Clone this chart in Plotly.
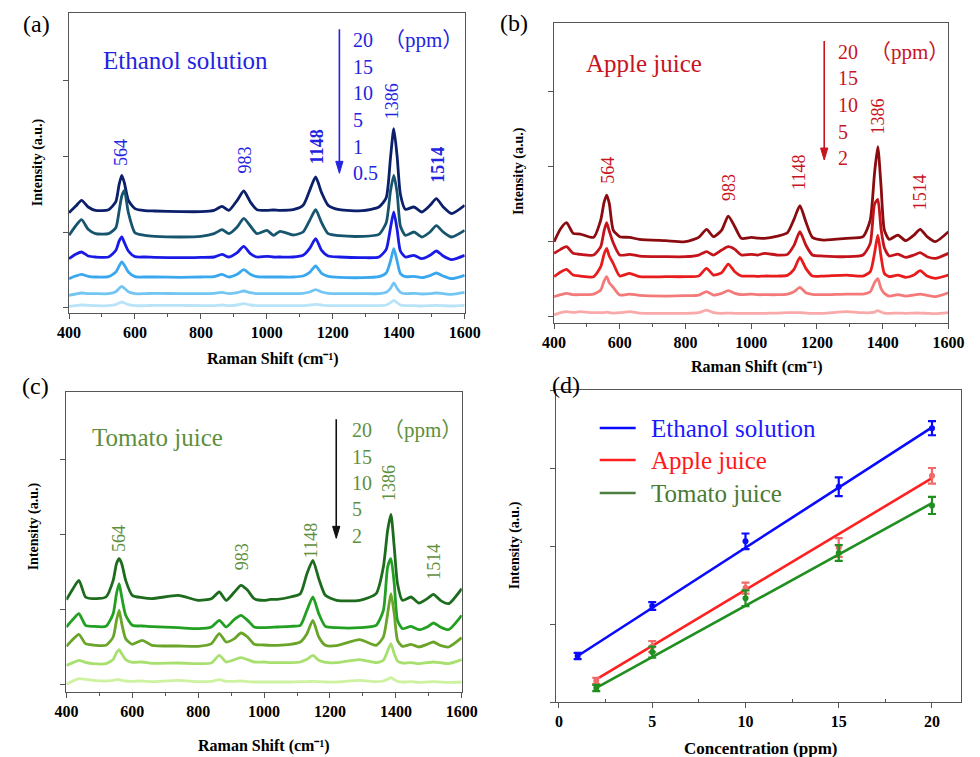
import plotly.graph_objects as go

# ---------------- data ----------------
shift = [400, 420, 438, 458, 480, 520, 542, 552, 560, 568, 580, 600,
         630, 660, 740, 800, 840, 864, 885, 910, 930, 950, 970, 1000,
         1020, 1040, 1080, 1110, 1130, 1148, 1166, 1186, 1220, 1290, 1340, 1362,
         1375, 1385, 1395, 1405, 1420, 1446, 1470, 1495, 1514, 1535, 1560, 1600]

# (a) Ethanol solution, 20 / 15 / 10 / 5 / 1 / 0.5 ppm
eth_20 = [285, 304, 322, 302, 292, 294, 318, 370, 397, 374, 322, 297,
          291, 290, 288, 288, 292, 304, 292, 322, 350, 317, 294, 292,
          293, 292, 294, 307, 352, 392, 345, 307, 294, 291, 302, 330,
          450, 537, 455, 340, 295, 302, 287, 307, 327, 302, 282, 307]
eth_15 = [217, 245, 264, 235, 222, 222, 240, 290, 335, 352, 285, 225,
          217, 214, 212, 214, 222, 234, 222, 242, 268, 245, 222, 232,
          217, 229, 218, 227, 262, 294, 255, 222, 216, 214, 220, 255,
          350, 397, 345, 245, 217, 227, 212, 227, 246, 227, 212, 232]
eth_10 = [147, 160, 167, 155, 152, 152, 172, 200, 212, 195, 170, 153,
          152, 151, 150, 151, 152, 160, 152, 165, 184, 162, 152, 154,
          152, 152, 152, 157, 178, 207, 172, 155, 152, 150, 152, 175,
          240, 287, 235, 170, 152, 157, 147, 157, 170, 155, 144, 157]
eth_5 = [87, 95, 100, 94, 92, 93, 107, 125, 137, 127, 107, 93,
         92, 92, 91, 92, 93, 100, 92, 100, 114, 100, 93, 92,
         92, 92, 92, 95, 106, 125, 103, 94, 91, 90, 93, 104,
         140, 177, 140, 102, 93, 94, 90, 96, 104, 95, 87, 97]
eth_1 = [37, 41, 44, 42, 42, 42, 48, 58, 64, 58, 48, 42,
         42, 43, 42, 42, 43, 46, 42, 45, 50, 45, 42, 42,
         42, 42, 42, 43, 47, 54, 47, 43, 42, 42, 42, 46,
         58, 74, 58, 46, 42, 43, 41, 42, 44, 42, 40, 46]
eth_05 = [4, 6, 8, 7, 6, 6, 9, 14, 17, 14, 9, 6,
          6, 7, 7, 6, 6, 8, 6, 8, 12, 8, 6, 6,
          6, 6, 6, 6, 8, 10, 8, 6, 6, 6, 6, 8,
          15, 22, 15, 8, 6, 6, 5, 6, 7, 6, 5, 7]

# (b) Apple juice, 20 / 15 / 10 / 5 / 2 ppm
app_20 = [223, 262, 280, 248, 246, 236, 288, 340, 363, 338, 258, 238,
          236, 230, 226, 223, 236, 260, 238, 258, 300, 268, 233, 236,
          234, 233, 240, 250, 290, 331, 283, 236, 228, 233, 238, 288,
          428, 508, 388, 258, 230, 243, 226, 243, 260, 238, 223, 253]
app_15 = [188, 200, 208, 188, 185, 183, 208, 255, 280, 255, 220, 183,
          185, 180, 178, 178, 183, 193, 183, 198, 208, 200, 183, 185,
          183, 188, 183, 185, 212, 253, 213, 183, 180, 178, 183, 218,
          335, 350, 260, 205, 180, 186, 176, 183, 190, 178, 173, 188]
app_10 = [118, 132, 140, 123, 120, 118, 148, 185, 203, 180, 158, 120,
          128, 118, 118, 118, 120, 143, 123, 130, 156, 133, 120, 120,
          119, 120, 120, 122, 140, 176, 143, 120, 120, 123, 120, 133,
          188, 243, 178, 128, 118, 123, 116, 123, 136, 120, 113, 123]
app_5 = [58, 64, 68, 64, 64, 66, 78, 105, 118, 100, 86, 63,
         66, 62, 60, 61, 63, 73, 63, 68, 76, 68, 64, 66,
         64, 64, 64, 66, 73, 86, 70, 65, 64, 66, 66, 73,
         100, 112, 82, 68, 60, 64, 60, 63, 66, 62, 58, 70]
app_2 = [3, 10, 13, 11, 13, 10, 10, 10, 12, 10, 9, 10,
         13, 9, 8, 8, 10, 18, 10, 8, 9, 8, 8, 8,
         8, 8, 9, 10, 10, 10, 9, 8, 8, 13, 10, 10,
         12, 16, 12, 9, 8, 9, 8, 9, 9, 8, 7, 10]

# (c) Tomato juice, 20 / 15 / 10 / 5 / 2 ppm
tom_20 = [254, 287, 312, 262, 257, 262, 312, 362, 377, 362, 312, 267,
          260, 257, 267, 252, 257, 277, 252, 277, 297, 282, 257, 252,
          255, 255, 262, 272, 332, 372, 317, 267, 252, 252, 272, 352,
          462, 510, 412, 302, 252, 262, 244, 257, 270, 252, 242, 287]
tom_15 = [172, 195, 212, 177, 174, 174, 212, 272, 302, 262, 207, 177,
          175, 173, 170, 167, 172, 192, 172, 195, 207, 192, 172, 170,
          171, 172, 174, 177, 222, 262, 212, 174, 170, 170, 177, 222,
          352, 377, 302, 192, 167, 174, 164, 172, 184, 172, 164, 207]
tom_10 = [114, 135, 150, 122, 118, 117, 142, 192, 222, 182, 137, 120,
          132, 117, 115, 114, 122, 152, 127, 137, 154, 142, 120, 118,
          117, 117, 120, 127, 152, 192, 142, 117, 116, 134, 117, 142,
          212, 272, 212, 132, 114, 120, 112, 120, 127, 117, 112, 140]
tom_5 = [57, 65, 72, 66, 62, 62, 75, 95, 104, 92, 74, 66,
         67, 63, 64, 62, 64, 87, 67, 74, 80, 74, 67, 67,
         65, 65, 65, 67, 75, 87, 72, 66, 65, 74, 65, 72,
         100, 122, 92, 70, 64, 65, 62, 65, 67, 65, 62, 74]
tom_2 = [0, 10, 17, 15, 12, 10, 12, 14, 14, 12, 10, 9,
         10, 8, 12, 8, 9, 14, 9, 9, 10, 8, 7, 7,
         7, 7, 7, 8, 8, 9, 8, 7, 7, 12, 8, 10,
         15, 20, 14, 9, 7, 8, 6, 7, 8, 7, 6, 7]

conc_a = ["20", "15", "10", "5", "1", "0.5"]
conc_bc = ["20", "15", "10", "5", "2"]
peak_labels = ["564", "983", "1148", "1386", "1514"]

# (d) calibration
eth_conc = [1, 5, 10, 15, 20]
eth_int = [0.59, 1.23, 2.06, 2.76, 3.51]
eth_err = [0.04, 0.05, 0.10, 0.12, 0.09]
app_conc = [2, 5, 10, 15, 20]
app_int = [0.27, 0.71, 1.46, 1.98, 2.90]
app_err = [0.04, 0.07, 0.07, 0.12, 0.10]
tom_conc = [2, 5, 10, 15, 20]
tom_int = [0.18, 0.64, 1.33, 1.91, 2.52]
tom_err = [0.04, 0.07, 0.10, 0.10, 0.11]
eth_fit_x, eth_fit_y = [1, 20], [0.59, 3.52]
app_fit_x, app_fit_y = [2, 20], [0.29, 2.87]
tom_fit_x, tom_fit_y = [2, 20], [0.18, 2.55]

# ---------------- styling ----------------
SERIF = "Liberation Serif, Times New Roman, serif"
CJK = "Liberation Serif, Noto Sans CJK SC, serif"
W, H = 980, 757

fig = go.Figure()

panels = [
    ("x", "y", [eth_20, eth_15, eth_10, eth_5, eth_1, eth_05],
     ["#0b1f6b", "#17556e", "#1a1ae6", "#3aa8ef", "#74c6f2", "#b8e3f8"]),
    ("x2", "y2", [app_20, app_15, app_10, app_5, app_2],
     ["#8b0c10", "#c2141a", "#e81c1c", "#f47a7a", "#f9a9a9"]),
    ("x3", "y3", [tom_20, tom_15, tom_10, tom_5, tom_2],
     ["#1d6b1d", "#22a022", "#6aa52a", "#a8e070", "#cdf2a0"]),
]
for xr, yr, series, cols in panels:
    for s, c in zip(series, cols):
        fig.add_trace(go.Scatter(x=shift, y=s, mode="lines", xaxis=xr, yaxis=yr,
                                 line=dict(color=c, width=2.8, shape="spline", smoothing=0.6),
                                 showlegend=False, hoverinfo="skip"))

# calibration traces
calib = [
    ("Ethanol solution", eth_conc, eth_int, eth_err, eth_fit_x, eth_fit_y,
     "#0a0aff", "#0a0aff", "#1a1aff", "#0a0aff"),
    ("Apple juice", app_conc, app_int, app_err, app_fit_x, app_fit_y,
     "#ff2020", "#f06a6a", "#ff1a1a", "#ff2020"),
    ("Tomato juice", tom_conc, tom_int, tom_err, tom_fit_x, tom_fit_y,
     "#1f8f1f", "#1f8f1f", "#4b7a35", "#4d7d3f"),
]
for name, cx, cy, ce, fx, fy, col, ecol, tcol, lcol in calib:
    fig.add_trace(go.Scatter(x=fx, y=fy, mode="lines", xaxis="x4", yaxis="y4",
                             line=dict(color=col, width=2.6), name=name, showlegend=False))
    fig.add_trace(go.Scatter(x=cx, y=cy, mode="markers", xaxis="x4", yaxis="y4", name=name,
                             marker=dict(color=ecol, size=6),
                             error_y=dict(type="data", array=ce, color=ecol, thickness=2.2, width=4),
                             showlegend=False))

def px_x(p):
    return p / W

def px_y(p):
    return 1 - p / H

tickfont = dict(family=SERIF, size=16, color="black", weight="bold")
line_common = dict(showline=True, linecolor="#555555", linewidth=1.2, mirror=True,
                   ticks="outside", ticklen=5, tickcolor="#555555", showgrid=False,
                   zeroline=False)

dom = {
    "a": ([58.7, 466], [313, 13]),
    "b": ([558, 964], [322.7, 22.7]),
    "c": ([56, 463], [692, 392]),
    "d": ([560, 977], [702, 390]),
}

def xd(k):
    return [px_x(dom[k][0][0]), px_x(dom[k][0][1])]

def yd(k):
    return [px_y(dom[k][1][0]), px_y(dom[k][1][1])]

spec_x = dict(range=[400, 1600], tickvals=[400, 600, 800, 1000, 1200, 1400, 1600],
              minor=dict(tickvals=[500, 700, 900, 1100, 1300, 1500], ticks="outside",
                         ticklen=3, tickcolor="#555555"), tickfont=tickfont, **line_common)

fig.update_layout(
    width=W, height=H, margin=dict(l=0, r=0, t=0, b=0),
    paper_bgcolor="white", plot_bgcolor="white", showlegend=False,
    xaxis=dict(domain=xd("a"), anchor="y", **spec_x),
    yaxis=dict(domain=yd("a"), anchor="x", range=[-16, 884], tickvals=[0, 227, 454, 681],
               showticklabels=False, **line_common),
    xaxis2=dict(domain=xd("b"), anchor="y2", **spec_x),
    yaxis2=dict(domain=yd("b"), anchor="x2", range=[-20, 880], tickvals=[0, 225, 450, 675],
                showticklabels=False, **line_common),
    xaxis3=dict(domain=xd("c"), anchor="y3", **spec_x),
    yaxis3=dict(domain=yd("c"), anchor="x3", range=[-23, 877], tickvals=[0, 225, 450, 675],
                showticklabels=False, **line_common),
    xaxis4=dict(domain=xd("d"), anchor="y4", range=[-0.16, 21.56], tickvals=[0, 5, 10, 15, 20],
                minor=dict(tickvals=[2.5, 7.5, 12.5, 17.5], ticks="inside", ticklen=3,
                           tickcolor="#555555"), tickfont=tickfont, **line_common),
    yaxis4=dict(domain=yd("d"), anchor="x4", range=[0, 4], tickvals=[0, 1, 2, 3, 4],
                showticklabels=False, **line_common),
)

ann = []
shapes = []
# panel letters
for lab, xp, yp in [("(a)", 25, 24), ("(b)", 517, 23), ("(c)", 24, 386), ("(d)", 570, 385)]:
    ann.append(dict(text=lab, x=px_x(xp), y=px_y(yp), xref="paper", yref="paper",
                    showarrow=False, font=dict(family=SERIF, size=24, color="black"),
                    xanchor="center", yanchor="middle"))

for xp, yp in [(27, 162), (522, 171), (23, 526), (518, 545)]:
    ann.append(dict(text="Intensity (a.u.)", x=px_x(xp), y=px_y(yp), xref="paper", yref="paper",
                    showarrow=False, textangle=-90,
                    font=dict(family=SERIF, size=14, color="black", weight="bold"),
                    xanchor="center", yanchor="middle"))
for xp, yp in [(269, 359), (767, 367), (259, 746)]:
    ann.append(dict(text="Raman Shift (cm⁻¹)", x=px_x(xp), y=px_y(yp), xref="paper",
                    yref="paper", showarrow=False,
                    font=dict(family=SERIF, size=16, color="black", weight="bold"),
                    xanchor="center", yanchor="middle"))
ann.append(dict(text="Concentration (ppm)", x=px_x(770), y=px_y(748), xref="paper", yref="paper",
                showarrow=False, font=dict(family=SERIF, size=17, color="black", weight="bold"),
                xanchor="center", yanchor="middle"))

# legend of panel (d), drawn as line samples + coloured labels
for (name, *_rest), yp in zip(calib, [428, 460, 493]):
    tcol, lcol = _rest[-2], _rest[-1]
    shapes.append(dict(type="line", xref="paper", yref="paper", x0=px_x(605), x1=px_x(642),
                       y0=px_y(yp), y1=px_y(yp), line=dict(color=lcol, width=2.6)))
    ann.append(dict(text=name, x=px_x(656), y=px_y(yp), xref="paper", yref="paper",
                    showarrow=False, font=dict(family=SERIF, size=25, color=tcol),
                    xanchor="left", yanchor="middle"))

# inner annotations of spectra panels
inner = [
    ("x", "y", "Ethanol solution", "#2424e0", "#2424e0", (498, 742),
     conc_a, 1255, [802, 721, 643, 562, 481, 403], 1350, (1220, 835, 403),
     [(560, 466), (934, 442), (1152, 484), (1382, 619), (1520, 430)],
     [False, False, True, False, True]),
    ("x2", "y2", "Apple juice", "#c8141e", "#c8141e", (492, 759),
     conc_bc, 1257, [792, 714, 633, 552, 474], 1355, (1222, 825, 468),
     [(563, 438), (932, 387), (1145, 432), (1387, 600), (1514, 372)],
     [False] * 5),
    ("x3", "y3", "Tomato juice", "#5e8f3c", "#111111", (471, 741),
     conc_bc, 1260, [762, 681, 603, 525, 444], 1355, (1219, 795, 438),
     [(562, 438), (933, 381), (1142, 432), (1381, 603), (1517, 369)],
     [False] * 5),
]
for xr, yr, title, col, arrcol, (tx, ty), concs, cx, cys, ppmx, (ax_, ay0, ay1), pk, bold in inner:
    ann.append(dict(text=title, x=tx, y=ty, xref=xr, yref=yr, showarrow=False,
                    font=dict(family=SERIF, size=25, color=col), xanchor="left", yanchor="middle"))
    for c, yv in zip(concs, cys):
        ann.append(dict(text=c, x=cx, y=yv, xref=xr, yref=yr, showarrow=False,
                        font=dict(family=SERIF, size=20, color=col), xanchor="left", yanchor="middle"))
    ann.append(dict(text="（ppm）", x=ppmx, y=cys[0], xref=xr, yref=yr, showarrow=False,
                    font=dict(family=CJK, size=21, color=col), xanchor="left", yanchor="middle"))
    # arrow: shaft + filled head
    head_h, head_w = 36, 11
    shapes.append(dict(type="line", xref=xr, yref=yr, x0=ax_, x1=ax_, y0=ay0, y1=ay1 + head_h * 0.6,
                       line=dict(color=arrcol, width=1.6)))
    shapes.append(dict(type="path", xref=xr, yref=yr, fillcolor=arrcol, line=dict(color=arrcol, width=1),
                       path="M %f,%f L %f,%f L %f,%f Z" % (ax_ - head_w, ay1 + head_h, ax_ + head_w,
                                                           ay1 + head_h, ax_, ay1)))
    for lab, (px_, py_), b in zip(peak_labels, pk, bold):
        f = dict(family=SERIF, size=18, color=col)
        if b:
            f["weight"] = "bold"
        ann.append(dict(text=lab, x=px_, y=py_, xref=xr, yref=yr, showarrow=False, textangle=-90,
                        font=f, xanchor="center", yanchor="middle"))

fig.update_layout(annotations=ann, shapes=shapes)
fig.write_html("out.html")
